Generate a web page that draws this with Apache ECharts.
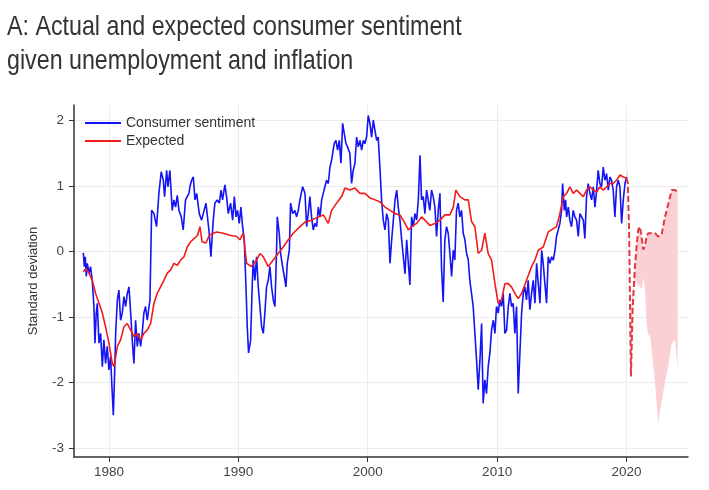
<!DOCTYPE html>
<html lang="en">
  <head>
    <meta charset="utf-8" />
    <style>
      html, body { margin: 0; background: #fff; }
      #container { width: 709px; height: 490px; }
    </style>
    <script src="https://cdn.jsdelivr.net/npm/echarts@6/dist/echarts.min.js"></script>
  </head>
  <body>
    <div id="container"></div>
    <script>
      // tick values
      var xTicks = [1980, 1990, 2000, 2010, 2020];
      var yTicks = [-3, -2, -1, 0, 1, 2];

      // consumer sentiment (standardised), [year, value]
      var sentiment = [
        [1978.02,-0.02],[1978.10,-0.23],[1978.17,-0.08],[1978.25,-0.38],[1978.33,-0.18],[1978.46,-0.33],[1978.58,-0.23],[1978.71,-0.44],
        [1978.84,-0.84],[1978.92,-1.40],[1979.02,-0.94],[1979.10,-0.79],[1979.23,-1.40],[1979.36,-1.25],[1979.49,-1.76],[1979.61,-1.35],
        [1979.74,-1.71],[1979.87,-1.45],[1980.00,-1.81],[1980.13,-1.61],[1980.23,-2.06],[1980.34,-2.50],[1980.44,-1.86],[1980.52,-1.25],
        [1980.65,-0.74],[1980.77,-0.59],[1980.90,-1.05],[1981.03,-0.94],[1981.16,-0.69],[1981.29,-0.84],[1981.42,-0.64],[1981.55,-0.54],
        [1981.68,-0.94],[1981.80,-1.35],[1981.93,-1.71],[1982.06,-1.05],[1982.19,-1.45],[1982.32,-1.25],[1982.45,-1.45],[1982.57,-1.25],
        [1982.70,-0.94],[1982.83,-0.84],[1982.96,-1.05],[1983.17,-0.74],[1983.30,0.63],[1983.48,0.58],[1983.68,0.38],[1983.86,0.89],
        [1984.04,1.22],[1984.20,1.09],[1984.30,0.84],[1984.46,1.24],[1984.56,0.99],[1984.71,1.24],[1984.89,0.63],[1985.02,0.79],
        [1985.15,0.68],[1985.28,0.86],[1985.41,0.63],[1985.59,0.53],[1985.74,0.33],[1985.92,0.79],[1986.18,0.89],[1986.26,0.99],
        [1986.39,1.09],[1986.52,1.14],[1986.65,0.79],[1986.78,0.89],[1986.98,0.58],[1987.16,0.48],[1987.29,0.58],[1987.50,0.74],
        [1987.63,0.74],[1987.75,0.28],[1987.88,-0.08],[1988.06,0.48],[1988.19,0.74],[1988.37,0.79],[1988.53,0.74],[1988.66,0.94],
        [1988.78,0.79],[1988.96,1.02],[1989.09,0.84],[1989.22,0.58],[1989.40,0.74],[1989.56,0.48],[1989.69,0.84],[1989.82,0.53],
        [1989.94,0.63],[1990.07,0.43],[1990.20,0.68],[1990.33,0.38],[1990.46,0.18],[1990.59,-0.54],[1990.69,-1.15],[1990.79,-1.55],
        [1990.95,-1.35],[1991.07,-0.54],[1991.15,-0.13],[1991.28,-0.44],[1991.41,-0.08],[1991.54,-0.54],[1991.67,-0.84],[1991.80,-1.15],
        [1991.93,-1.25],[1992.05,-0.94],[1992.18,-0.54],[1992.31,-0.44],[1992.44,-0.23],[1992.57,-0.54],[1992.70,-0.74],[1992.83,-0.84],
        [1992.96,0.07],[1993.01,0.53],[1993.16,0.28],[1993.27,-0.03],[1993.42,-0.23],[1993.55,-0.38],[1993.68,-0.54],[1993.78,-0.18],
        [1993.94,0.02],[1994.04,0.74],[1994.20,0.58],[1994.37,0.63],[1994.50,0.53],[1994.63,0.63],[1994.76,0.79],[1994.97,0.99],
        [1995.15,0.89],[1995.28,0.38],[1995.40,0.58],[1995.53,0.84],[1995.66,0.53],[1995.79,0.33],[1995.92,0.43],[1996.05,0.38],
        [1996.18,0.68],[1996.31,0.53],[1996.44,0.79],[1996.57,0.79],[1996.69,0.99],[1996.82,1.09],[1996.95,1.04],[1997.08,1.29],
        [1997.21,1.40],[1997.41,1.65],[1997.54,1.70],[1997.67,1.55],[1997.80,1.70],[1997.93,1.35],[1998.06,1.96],[1998.19,1.80],
        [1998.32,1.65],[1998.44,1.60],[1998.62,1.50],[1998.75,1.04],[1998.88,1.24],[1999.01,1.35],[1999.14,1.75],[1999.27,1.60],
        [1999.40,1.70],[1999.53,1.55],[1999.66,1.70],[1999.78,1.65],[1999.91,1.75],[2000.04,2.08],[2000.17,1.96],[2000.30,1.75],
        [2000.43,2.01],[2000.56,1.85],[2000.69,1.70],[2000.81,1.75],[2000.94,1.29],[2001.07,0.79],[2001.20,0.48],[2001.33,0.33],
        [2001.46,0.58],[2001.59,0.48],[2001.72,-0.18],[2001.85,0.18],[2001.98,0.48],[2002.11,0.79],[2002.24,0.94],[2002.36,0.68],
        [2002.49,0.48],[2002.62,0.18],[2002.75,-0.08],[2002.88,-0.34],[2003.01,0.18],[2003.14,-0.18],[2003.26,-0.51],[2003.39,0.53],
        [2003.52,0.38],[2003.65,0.58],[2003.78,0.48],[2003.91,0.79],[2004.04,1.47],[2004.16,0.79],[2004.29,0.84],[2004.42,0.58],
        [2004.55,0.94],[2004.67,0.79],[2004.80,0.63],[2004.93,0.94],[2005.06,0.84],[2005.19,0.68],[2005.32,0.23],[2005.45,0.63],
        [2005.58,0.89],[2005.70,-0.23],[2005.83,-0.77],[2005.96,0.18],[2006.09,0.38],[2006.22,0.28],[2006.35,-0.03],[2006.48,-0.38],
        [2006.61,0.02],[2006.73,-0.13],[2006.86,0.63],[2006.99,0.74],[2007.12,0.53],[2007.25,0.63],[2007.38,0.28],[2007.51,0.18],
        [2007.64,-0.03],[2007.77,-0.13],[2007.89,-0.44],[2008.02,-0.64],[2008.15,-0.84],[2008.28,-1.25],[2008.41,-1.66],[2008.54,-2.11],
        [2008.67,-1.66],[2008.80,-1.10],[2008.92,-2.32],[2009.05,-1.96],[2009.18,-2.17],[2009.31,-1.76],[2009.44,-1.55],[2009.57,-1.20],
        [2009.70,-1.05],[2009.83,-1.25],[2009.95,-0.84],[2010.08,-0.94],[2010.21,-0.74],[2010.34,-0.84],[2010.47,-0.64],[2010.60,-1.25],
        [2010.73,-1.20],[2010.86,-0.84],[2010.99,-0.64],[2011.11,-0.84],[2011.24,-0.79],[2011.37,-1.25],[2011.50,-0.84],[2011.63,-2.17],
        [2011.76,-1.55],[2011.89,-0.94],[2012.02,-0.64],[2012.14,-0.54],[2012.27,-0.74],[2012.40,-0.44],[2012.53,-0.89],[2012.66,-0.64],
        [2012.79,-0.44],[2012.92,-0.79],[2013.05,-0.18],[2013.18,-0.49],[2013.31,-0.79],[2013.44,0.02],[2013.56,-0.18],[2013.69,-0.49],
        [2013.82,-0.79],[2013.95,-0.08],[2014.08,-0.18],[2014.21,-0.08],[2014.34,-0.13],[2014.47,0.02],[2014.59,0.23],[2014.72,0.33],
        [2014.85,0.43],[2014.98,0.63],[2015.06,1.04],[2015.19,0.63],[2015.29,0.79],[2015.37,0.53],[2015.50,0.68],[2015.62,0.48],
        [2015.75,0.38],[2015.88,0.63],[2016.01,0.53],[2016.14,0.48],[2016.27,0.23],[2016.40,0.58],[2016.53,0.53],[2016.66,0.48],
        [2016.78,0.20],[2016.91,0.84],[2017.04,1.04],[2017.17,0.89],[2017.30,0.79],[2017.43,0.99],[2017.56,0.68],[2017.69,0.94],
        [2017.81,1.24],[2017.94,1.04],[2018.07,0.99],[2018.20,1.29],[2018.33,1.09],[2018.46,1.19],[2018.59,0.94],[2018.72,1.14],
        [2018.84,1.09],[2018.97,0.94],[2019.10,0.53],[2019.23,0.99],[2019.36,1.09],[2019.49,0.99],[2019.62,0.43],[2019.75,0.79],
        [2019.88,1.04],[2020.00,1.14]
      ];

      // expected sentiment given unemployment and inflation, [year, value]
      var expected = [
        [1978.02,-0.31],[1978.20,-0.26],[1978.46,-0.33],[1978.71,-0.44],[1978.97,-0.64],[1979.23,-0.79],[1979.49,-0.94],[1979.74,-1.15],
        [1980.00,-1.40],[1980.26,-1.71],[1980.39,-1.76],[1980.52,-1.61],[1980.65,-1.45],[1980.90,-1.35],[1981.16,-1.15],[1981.42,-1.10],
        [1981.68,-1.20],[1981.93,-1.30],[1982.19,-1.25],[1982.45,-1.35],[1982.70,-1.25],[1982.96,-1.20],[1983.22,-1.10],[1983.48,-0.79],
        [1983.73,-0.64],[1983.99,-0.54],[1984.25,-0.44],[1984.51,-0.33],[1984.77,-0.28],[1985.02,-0.18],[1985.28,-0.21],[1985.54,-0.13],
        [1985.80,-0.08],[1986.05,0.07],[1986.31,0.15],[1986.60,0.20],[1986.85,0.25],[1987.03,0.38],[1987.20,0.15],[1987.50,0.13],
        [1987.75,0.25],[1988.06,0.28],[1988.32,0.30],[1988.84,0.28],[1989.35,0.25],[1989.87,0.23],[1990.12,0.18],[1990.38,0.28],
        [1990.64,-0.18],[1991.02,-0.23],[1991.41,-0.13],[1991.67,-0.03],[1991.93,-0.08],[1992.31,-0.23],[1992.70,-0.13],[1993.08,-0.03],
        [1993.47,0.07],[1993.86,0.18],[1994.24,0.28],[1994.76,0.38],[1995.15,0.45],[1995.66,0.48],[1996.18,0.53],[1996.57,0.56],
        [1996.95,0.43],[1997.21,0.63],[1997.59,0.74],[1997.98,0.84],[1998.24,0.97],[1998.62,0.94],[1999.01,0.97],[1999.40,0.89],
        [1999.78,0.89],[2000.17,0.82],[2000.56,0.79],[2000.94,0.76],[2001.33,0.68],[2001.72,0.63],[2002.11,0.58],[2002.49,0.56],
        [2002.88,0.43],[2003.14,0.33],[2003.39,0.38],[2003.78,0.43],[2004.17,0.53],[2004.42,0.48],[2004.80,0.40],[2005.19,0.43],
        [2005.58,0.48],[2005.96,0.56],[2006.35,0.56],[2006.61,0.68],[2006.81,0.94],[2007.12,0.84],[2007.51,0.79],[2007.77,0.79],
        [2008.02,0.46],[2008.28,0.38],[2008.54,-0.03],[2008.80,0.02],[2009.05,0.28],[2009.31,-0.03],[2009.57,-0.13],[2009.83,-0.49],
        [2010.08,-0.79],[2010.34,-0.74],[2010.60,-0.49],[2010.86,-0.49],[2011.11,-0.54],[2011.37,-0.64],[2011.63,-0.72],[2011.89,-0.64],
        [2012.27,-0.44],[2012.66,-0.23],[2012.92,-0.13],[2013.18,0.02],[2013.56,0.07],[2013.95,0.30],[2014.34,0.35],[2014.59,0.38],
        [2014.85,0.58],[2015.11,0.84],[2015.37,0.89],[2015.62,0.99],[2015.88,0.89],[2016.14,0.94],[2016.40,0.89],[2016.66,0.84],
        [2016.91,0.94],[2017.17,0.99],[2017.43,0.94],[2017.69,0.91],[2017.94,0.99],[2018.20,0.94],[2018.46,0.99],[2018.72,1.04],
        [2018.97,1.04],[2019.23,1.09],[2019.49,1.17],[2019.75,1.14],[2020.00,1.12]
      ];

      // after 2020: expected (dashed) and actual (edge of shaded gap)
      var projYears = [2020.00, 2020.10, 2020.20, 2020.34, 2020.47, 2020.65, 2020.78, 2020.90, 2021.03, 2021.16, 2021.29, 2021.42,
        2021.55, 2021.68, 2021.80, 2021.94, 2022.20, 2022.45, 2022.70, 2022.97, 2023.23, 2023.49, 2023.75, 2023.95];
      var projExpected = [1.12, 1.05, 0.30, -1.91, -0.89, -0.23, 0.09, 0.33, 0.38, 0.23, 0.03, 0.08,
        0.23, 0.28, 0.30, 0.28, 0.28, 0.23, 0.25, 0.53, 0.73, 0.94, 0.94, 0.91];
      var projActual = [1.25, 1.20, 0.60, -0.90, -0.60, -0.50, -0.45, -0.55, -0.50, -0.60, -0.40, -0.55,
        -1.10, -1.30, -1.25, -1.50, -2.00, -2.62, -2.30, -2.00, -1.75, -1.40, -1.35, -1.80];

      var chart = echarts.init(document.getElementById("container"));

      var projLine = projYears.map(function (y, i) { return [y, projExpected[i]]; });
      var fontFam = "'Liberation Sans', Arial, sans-serif";

      var option = {
        animation: false,
        backgroundColor: "#fff",
        // title drawn as graphic text so it can be narrowed like the original
        graphic: [
          {
            type: "text",
            x: 7,
            y: 10,
            scaleX: 0.83,
            style: {
              text: "A: Actual and expected consumer sentiment\ngiven unemployment and inflation",
              font: "28px 'Liberation Sans', Arial, sans-serif",
              fill: "#333",
              lineHeight: 34
            }
          }
        ],
        legend: {
          data: [
            { name: "Consumer sentiment", icon: "rect" },
            { name: "Expected", icon: "rect" }
          ],
          orient: "vertical",
          left: 85,
          top: 116,
          padding: 0,
          itemWidth: 36,
          itemHeight: 2,
          itemGap: 4,
          textStyle: { fontFamily: fontFam, fontSize: 14, color: "#333", lineHeight: 14 }
        },
        grid: { left: 74, right: 21, top: 105, bottom: 33, containLabel: false },
        xAxis: {
          type: "value",
          min: 1977.3,
          max: 2024.75,
          axisLine: { onZero: false, lineStyle: { color: "#333", width: 1.5 } },
          axisTick: { show: true, length: 5, customValues: xTicks, lineStyle: { color: "#333" } },
          axisLabel: {
            customValues: xTicks,
            margin: 8,
            fontFamily: fontFam,
            fontSize: 13.5,
            color: "#444",
            formatter: function (v) { return String(v); }
          },
          splitLine: { show: true, lineStyle: { color: "#ececec", width: 1 } }
        },
        yAxis: {
          type: "value",
          min: -3.14,
          max: 2.24,
          name: "Standard deviation",
          nameLocation: "middle",
          nameGap: 34,
          nameTextStyle: { fontFamily: fontFam, fontSize: 13, color: "#333" },
          axisLine: { show: true, onZero: false, lineStyle: { color: "#333", width: 1.5 } },
          axisTick: { show: true, length: 5, customValues: yTicks, lineStyle: { color: "#333" } },
          axisLabel: {
            customValues: yTicks,
            margin: 10,
            fontFamily: fontFam,
            fontSize: 13.5,
            color: "#444"
          },
          splitLine: { show: true, lineStyle: { color: "#ececec", width: 1 } }
        },
        series: [
          {
            name: "gap",
            type: "custom",
            silent: true,
            z: 1,
            data: [[projYears[0], projExpected[0]]],
            renderItem: function (params, api) {
              var pts = [];
              for (var i = 0; i < projYears.length; i++) {
                pts.push(api.coord([projYears[i], projExpected[i]]));
              }
              for (var j = projYears.length - 1; j >= 0; j--) {
                pts.push(api.coord([projYears[j], projActual[j]]));
              }
              return {
                type: "polygon",
                shape: { points: pts },
                style: { fill: "#fbd0d4", stroke: null }
              };
            }
          },
          {
            name: "Consumer sentiment",
            type: "line",
            data: sentiment,
            showSymbol: false,
            symbol: "none",
            z: 3,
            lineStyle: { color: "#1414f5", width: 1.6 },
            itemStyle: { color: "#1414f5" }
          },
          {
            name: "Expected",
            type: "line",
            data: expected,
            showSymbol: false,
            symbol: "none",
            z: 4,
            lineStyle: { color: "#f21c1c", width: 1.6 },
            itemStyle: { color: "#f21c1c" }
          },
          {
            name: "Expected after 2020",
            type: "line",
            data: projLine,
            showSymbol: false,
            symbol: "none",
            z: 4,
            lineStyle: { color: "#e33a42", width: 2, type: [6, 3] },
            itemStyle: { color: "#e33a42" }
          }
        ]
      };

      chart.setOption(option);
    </script>
  </body>
</html>
